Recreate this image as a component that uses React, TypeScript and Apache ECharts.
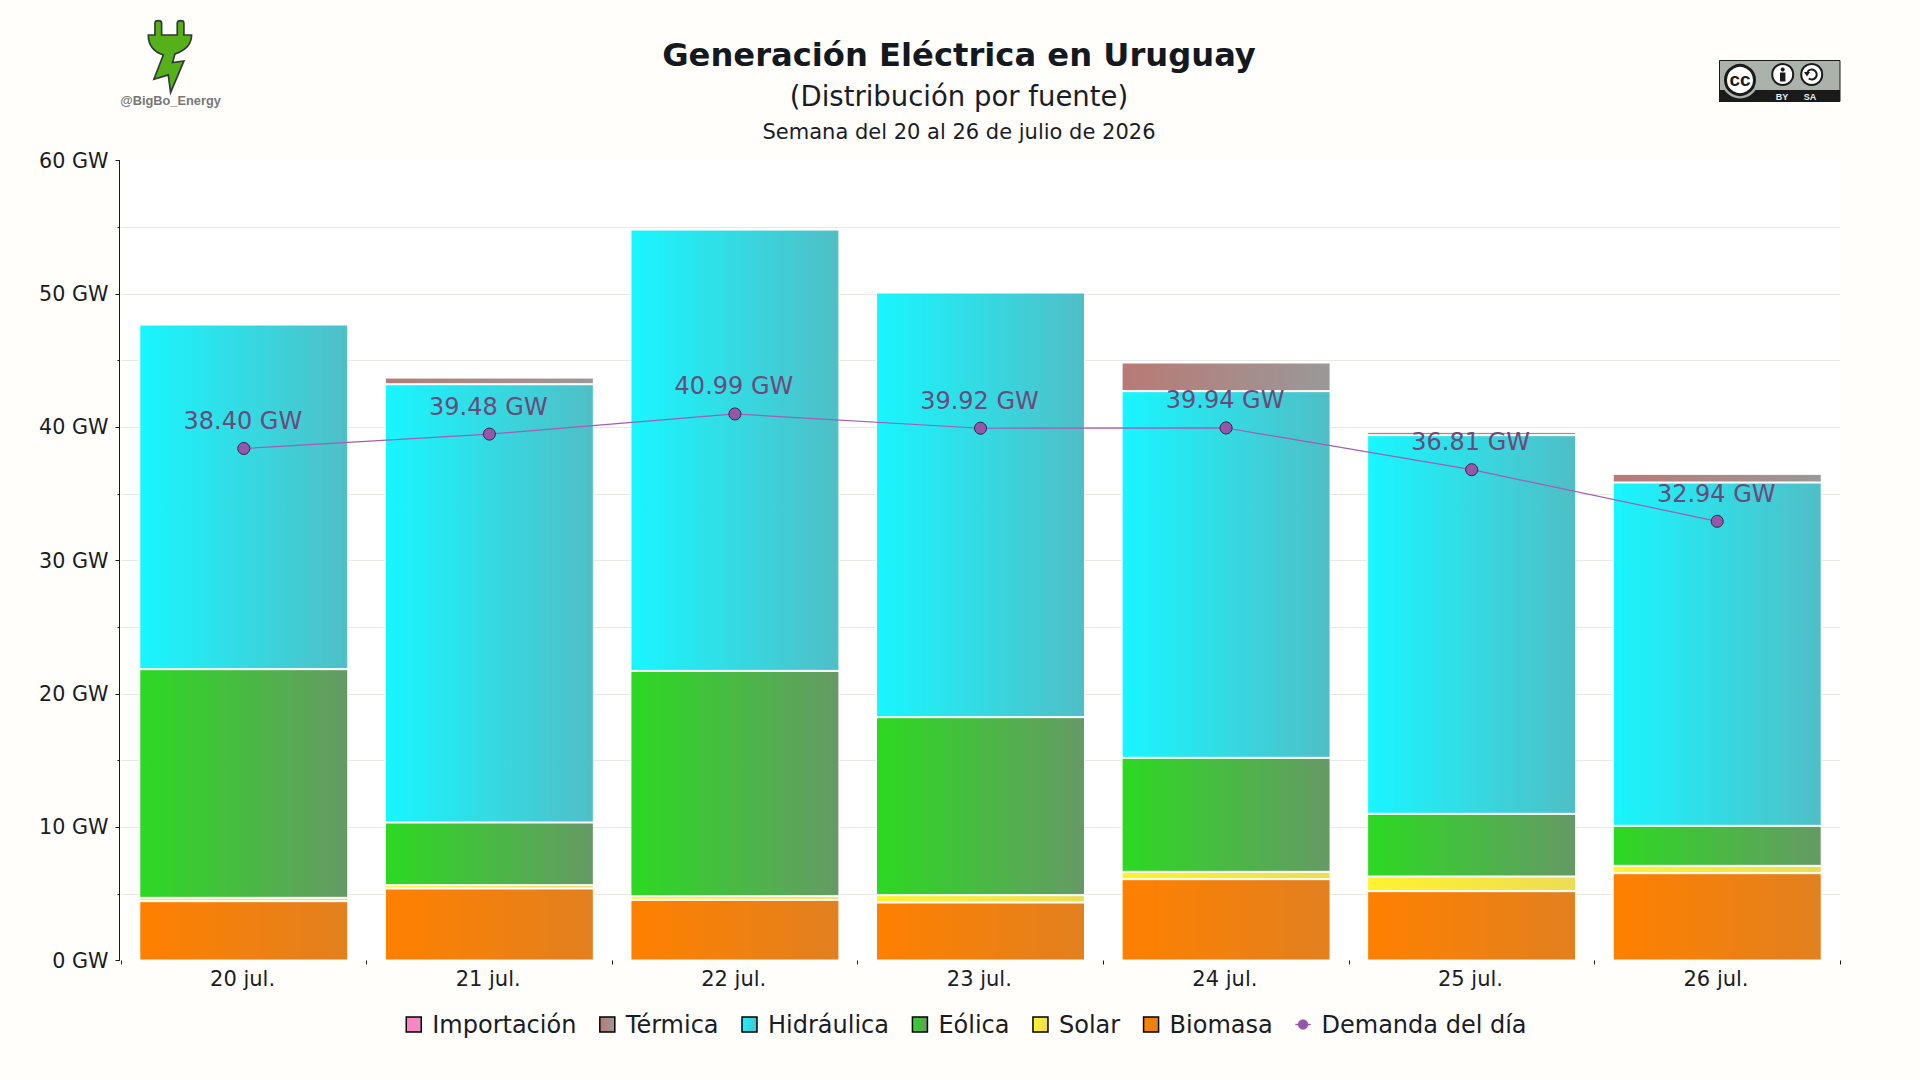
import React, { useEffect, useRef } from "react";
import * as echarts from "echarts";

const categories = ["20 jul.", "21 jul.", "22 jul.", "23 jul.", "24 jul.", "25 jul.", "26 jul."];
const biomasa = [4.45, 5.4, 4.55, 4.35, 6.1, 5.2, 6.55];
const solar = [0.25, 0.25, 0.27, 0.55, 0.55, 1.1, 0.55];
const eolica = [17.15, 4.7, 16.9, 13.35, 8.55, 4.7, 3.0];
const hidraulica = [25.85, 32.87, 33.1, 31.85, 27.5, 28.4, 25.75];
const termica = [null, 0.5, null, null, 2.15, 0.25, 0.65];
const importacion = [null, null, null, null, null, null, null];
const demanda = [38.4, 39.48, 40.99, 39.92, 39.94, 36.81, 32.94];
const legendOrder = ["Importación", "Térmica", "Hidráulica", "Eólica", "Solar", "Biomasa", "Demanda del día"];

const FONT = "DejaVu Sans";
const BG = "#fffefa";
const INK = "#1a1c26";

const grad = (a: string, b: string) =>
  new echarts.graphic.LinearGradient(0, 0, 1, 0, [
    { offset: 0, color: a },
    { offset: 1, color: b },
  ]);

const PLUG =
  "M165 105 L165 70 Q165 62 175 62 Q185 62 185 70 L185 105 L232 105 L232 70 Q232 62 242 62 Q252 62 252 70 L252 105 L275 105 Q275 145 225 162 L218 188 L252 183 L212 278 L205 225 L162 238 L190 165 Q145 150 145 105 Z";
echarts.graphic.registerShape("plugLogo", echarts.graphic.extendPath(PLUG, {}) as any);

const barSeries = (name: string, data: (number | null)[], a: string, b: string) => ({
  name,
  type: "bar",
  stack: "gen",
  barWidth: 209,
  data,
  itemStyle: { color: grad(a, b), borderColor: "#ffffff", borderWidth: 1 },
});

export default function App() {
  const ref = useRef<HTMLDivElement>(null);
  useEffect(() => {
    const chart = echarts.init(ref.current!, undefined, { renderer: "svg" });
    chart.setOption({
      animation: false,
      backgroundColor: BG,
      textStyle: { fontFamily: FONT },
      title: [
        { text: "Generación Eléctrica en Uruguay", left: 954, top: 34, textAlign: "center", textStyle: { fontFamily: FONT, fontSize: 32.2, fontWeight: "bold", color: "#14181f" } },
        { text: "(Distribución por fuente)", left: 954, top: 77, textAlign: "center", textStyle: { fontFamily: FONT, fontSize: 27.5, fontWeight: "normal", color: INK } },
        { text: "Semana del 20 al 26 de julio de 2026", left: 954, top: 116, textAlign: "center", textStyle: { fontFamily: FONT, fontSize: 21, fontWeight: "normal", color: INK } },
      ],
      grid: { left: 121, right: 80, top: 160.5, bottom: 119.5, show: true, backgroundColor: "#ffffff", borderWidth: 0 },
      legend: {
        left: 400.5,
        top: 1007.5,
        itemWidth: 15,
        itemHeight: 15,
        itemGap: 22.7,
        textStyle: { fontFamily: FONT, fontSize: 24, color: INK, padding: [0, 0, 0, 6] },
        itemStyle: { borderColor: "#000000", borderWidth: 1.5 },
        data: legendOrder.map((name) =>
          name === "Demanda del día"
            ? { name, icon: "path://M0 9.2H20V10.8H0Z M10 3.3A6.7 6.7 0 1 1 9.99 3.3Z M10 0h.01v.01z M10 20h.01v-.01z", itemStyle: { color: "#9457aa", borderColor: "#9457aa", borderWidth: 0.3 } }
            : { name, icon: "rect" }
        ),
      },
      xAxis: {
        type: "category",
        data: categories,
        axisLine: { show: false },
        axisTick: { show: true, length: 4, lineStyle: { color: "#1a1a1a", width: 1 } },
        axisLabel: { fontFamily: FONT, fontSize: 21, color: INK, margin: 8, padding: [0, 2.4, 0, 0] },
      },
      yAxis: {
        type: "value",
        min: 0,
        max: 60,
        interval: 10,
        offset: 1.5,
        axisLine: { show: true, lineStyle: { color: "#1a1a1a", width: 1 } },
        axisTick: { show: true, length: 4, lineStyle: { color: "#1a1a1a", width: 1 } },
        minorTick: { show: true, splitNumber: 2, length: 2, lineStyle: { color: "#1a1a1a", width: 1 } },
        axisLabel: { fontFamily: FONT, fontSize: 20.7, color: INK, margin: 11, formatter: (v: number) => `${v} GW` },
        splitLine: { show: true, showMinLine: false, showMaxLine: false, lineStyle: { color: "#e9e9e4", width: 1 } },
        minorSplitLine: { show: true, lineStyle: { color: "#e9e9e4", width: 1 } },
      },
      series: [
        barSeries("Biomasa", biomasa, "#ff8000", "#e28020"),
        barSeries("Solar", solar, "#fff22e", "#ebdd55"),
        barSeries("Eólica", eolica, "#2cd922", "#669966"),
        barSeries("Hidráulica", hidraulica, "#18f6ff", "#50bec6"),
        barSeries("Térmica", termica, "#b87a75", "#999999"),
        barSeries("Importación", importacion, "#ff80c0", "#f090c0"),
        {
          name: "Demanda del día",
          type: "line",
          data: demanda,
          z: 5,
          symbol: "circle",
          symbolSize: 12,
          lineStyle: { color: "#a45cb4", width: 1.2 },
          itemStyle: { color: "#9457aa", borderColor: "#2f2440", borderWidth: 1 },
          label: {
            show: true,
            position: "top",
            distance: 9,
            padding: [0, 2, 0, 0],
            fontFamily: FONT,
            fontSize: 24,
            color: "#6b4a7a",
            formatter: (p: any) => `${p.value.toFixed(2)} GW`,
          },
        },
      ],
      graphic: {
        elements: [
          { type: "plugLogo", x: 100, y: 0, scaleX: 1 / 3, scaleY: 1 / 3, style: { fill: "#55b01a", stroke: "#33363a", lineWidth: 5 } },
          { type: "text", x: 170.5, y: 100, style: { text: "@BigBo_Energy", fill: "#777777", font: "bold 12.8px 'Liberation Sans'", align: "center", verticalAlign: "middle" } },
          { type: "rect", shape: { x: 1719.5, y: 60.5, width: 120.5, height: 41 }, style: { fill: "#aab2ab", stroke: "#1a1a1a", lineWidth: 1 } },
          { type: "rect", shape: { x: 1719, y: 90, width: 121, height: 12 }, style: { fill: "#1a1a1a" } },
          { type: "circle", shape: { cx: 1740, cy: 80, r: 18.5 }, style: { fill: "#aab2ab" } },
          { type: "circle", shape: { cx: 1740, cy: 80, r: 14.5 }, style: { fill: "#ffffff", stroke: "#1a1a1a", lineWidth: 3 } },
          { type: "text", x: 1740, y: 79, style: { text: "cc", fill: "#1a1a1a", font: "bold 19px 'Liberation Sans'", align: "center", verticalAlign: "middle" } },
          { type: "circle", shape: { cx: 1782.7, cy: 74.5, r: 10.5 }, style: { fill: "#ffffff", stroke: "#1a1a1a", lineWidth: 2 } },
          { type: "circle", shape: { cx: 1782.7, cy: 69.5, r: 2 }, style: { fill: "#1a1a1a" } },
          { type: "rect", shape: { x: 1780, y: 72.5, width: 5.4, height: 9 }, style: { fill: "#1a1a1a" } },
          { type: "circle", shape: { cx: 1811.7, cy: 74.5, r: 10.5 }, style: { fill: "#ffffff", stroke: "#1a1a1a", lineWidth: 2 } },
          { type: "arc", shape: { cx: 1811.7, cy: 74.5, r: 5, startAngle: -2.6, endAngle: 2.2, clockwise: true }, style: { fill: "none", stroke: "#1a1a1a", lineWidth: 2 } },
          { type: "polygon", shape: { points: [[1804, 72], [1810, 72], [1807, 76.5]] }, style: { fill: "#1a1a1a" } },
          { type: "text", x: 1782, y: 96.5, style: { text: "BY", fill: "#eeeeee", font: "bold 9px 'Liberation Sans'", align: "center", verticalAlign: "middle" } },
          { type: "text", x: 1810, y: 96.5, style: { text: "SA", fill: "#eeeeee", font: "bold 9px 'Liberation Sans'", align: "center", verticalAlign: "middle" } },
        ],
      },
    });
    return () => chart.dispose();
  }, []);
  return <div ref={ref} style={{ position: "absolute", left: 0, top: 0, width: 1920, height: 1080 }} />;
}
